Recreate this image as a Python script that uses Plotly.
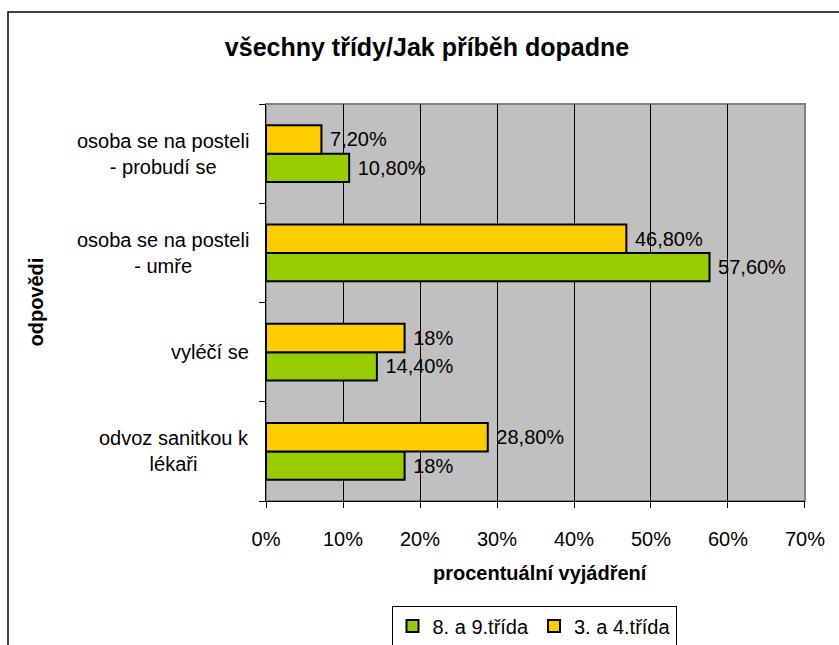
import plotly.graph_objects as go

categories = ["osoba se na posteli<br>- probudí se", "osoba se na posteli<br>- umře", "vyléčí se", "odvoz sanitkou k<br>lékaři"]
series_names = ["8. a 9.třída", "3. a 4.třída"]
values_89 = [0.108, 0.576, 0.144, 0.18]
values_34 = [0.072, 0.468, 0.18, 0.288]
labels_89 = ["10,80%", "57,60%", "14,40%", "18%"]
labels_34 = ["7,20%", "46,80%", "18%", "28,80%"]
x_ticks = [0, 0.1, 0.2, 0.3, 0.4, 0.5, 0.6, 0.7]
x_tick_text = ["0%", "10%", "20%", "30%", "40%", "50%", "60%", "70%"]

FONT = "Arial, Liberation Sans, sans-serif"
FS = 20
W, H = 839, 645
L, R, T, B = 266, 34, 104, 144
pw, ph = W - L - R, H - T - B

fig = go.Figure()
fig.add_trace(go.Bar(
    y=categories, x=values_89, orientation="h", name=series_names[0],
    marker=dict(color="#99CC00", line=dict(color="black", width=2)),
    text=labels_89, texttemplate=" %{text}", textposition="outside", cliponaxis=False,
    textfont=dict(family=FONT, size=FS, color="black"),
))
fig.add_trace(go.Bar(
    y=categories, x=values_34, orientation="h", name=series_names[1],
    marker=dict(color="#FFCC00", line=dict(color="black", width=2)),
    text=labels_34, texttemplate=" %{text}", textposition="outside", cliponaxis=False,
    textfont=dict(family=FONT, size=FS, color="black"),
))

fig.update_layout(
    width=W, height=H,
    margin=dict(l=L, r=R, t=T, b=B, autoexpand=False),
    paper_bgcolor="white", plot_bgcolor="#C0C0C0",
    barmode="group", bargap=0.43, bargroupgap=0,
    font=dict(family=FONT, size=FS, color="black"),
    title=dict(text="<b>všechny třídy/Jak příběh dopadne</b>", x=427 / W, xref="container",
               xanchor="center", y=1 - 47 / H, yref="container", yanchor="middle",
               font=dict(family=FONT, size=25, color="black")),
    showlegend=True,
    legend=dict(orientation="h", x=(534 - L) / pw, xanchor="center",
                y=-(626 - (H - B)) / ph, yanchor="middle",
                bordercolor="black", borderwidth=1, bgcolor="white",
                font=dict(family=FONT, size=FS), traceorder="normal",
                itemwidth=30, tracegroupgap=0),
    xaxis=dict(range=[0, 0.70001], tickvals=x_ticks, ticktext=x_tick_text,
               showgrid=True, gridcolor="black", gridwidth=1,
               showline=True, linecolor="black", linewidth=1,
               ticks="outside", ticklen=6, tickcolor="black",
               ticklabelstandoff=14, ticklabeloverflow="allow", zeroline=False,
               tickfont=dict(family=FONT, size=FS)),
    yaxis=dict(categoryorder="array", categoryarray=categories[::-1],
               showticklabels=False, tickson="boundaries",
               ticks="outside", ticklen=6, tickcolor="black",
               showline=True, linecolor="black", linewidth=1,
               showgrid=False, zeroline=False),
    shapes=[
        dict(type="rect", xref="paper", yref="paper", x0=0, x1=1, y0=0, y1=1,
             line=dict(color="#808080", width=2), layer="below"),
        dict(type="rect", xref="paper", yref="paper",
             x0=(8 - L) / pw, x1=2, y0=-2, y1=1 + (T - 12) / ph,
             line=dict(color="black", width=1.5)),
    ],
)

annotations = []
for c in categories:
    annotations.append(dict(text=c, x=(251 - L) / pw, xref="paper", y=c, yref="y",
                            xanchor="right", yanchor="middle", align="center",
                            showarrow=False, font=dict(family=FONT, size=FS)))
annotations.append(dict(text="<b>odpovědi</b>", x=(35 - L) / pw, xref="paper",
                        y=0.5, yref="paper", textangle=-90, showarrow=False,
                        xanchor="center", yanchor="middle",
                        font=dict(family=FONT, size=FS)))
annotations.append(dict(text="<b>procentuální vyjádření</b>", x=(540 - L) / pw, xref="paper",
                        y=-(573 - (H - B)) / ph, yref="paper", showarrow=False,
                        xanchor="center", yanchor="middle",
                        font=dict(family=FONT, size=FS)))
fig.update_layout(annotations=annotations)

fig.write_html("out.html", config={"displayModeBar": False},
               post_script="document.body.style.margin='0';document.body.style.overflow='hidden';")
